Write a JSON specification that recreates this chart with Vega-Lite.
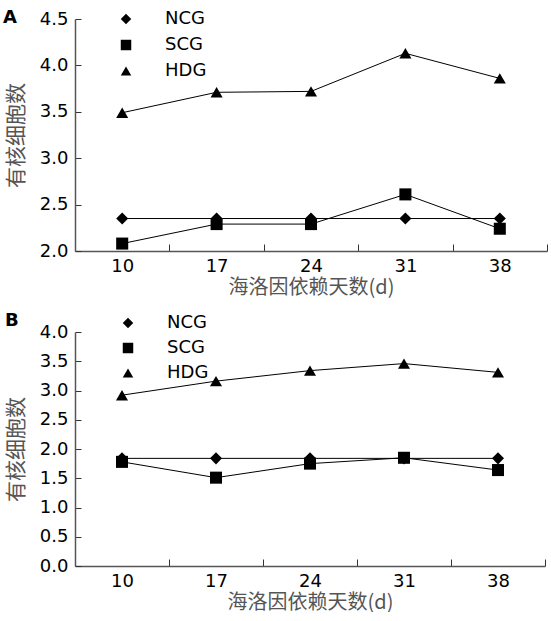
{
  "$schema": "https://vega.github.io/schema/vega-lite/v6.json",
  "padding": {"left": 3, "top": 9, "right": 0, "bottom": 0},
  "autosize": {"type": "pad"},
  "spacing": 15,
  "resolve": {"scale": {"shape": "independent"}, "legend": {"shape": "independent"}},
  "config": {
    "view": {"stroke": null},
    "font": "DejaVu Sans",
    "axis": {
      "domainColor": "#555", "domainWidth": 1.5, "tickColor": "#333", "tickWidth": 1,
      "labelFont": "DejaVu Sans", "labelFontSize": 18, "labelColor": "black",
      "titleFont": "Noto Sans CJK SC", "titleFontSize": 20, "titleColor": "#555", "titleFontWeight": "normal",
      "grid": false
    },
    "axisX": {"tickSize": -7, "labelPadding": 13, "labelAngle": 0, "tickBand": "extent", "titlePadding": 2},
    "axisY": {"tickSize": -6, "labelPadding": 13, "titlePadding": 13, "format": ".1f", "titleFontSize": 21},
    "legend": {
      "orient": "none", "title": null, "symbolSize": 110, "labelOffset": 30, "labelFontSize": 18,
      "labelFont": "DejaVu Sans", "labelColor": "black", "symbolFillColor": "black", "symbolStrokeColor": "black",
      "symbolStrokeWidth": 1, "symbolOpacity": 1
    },
    "title": {"font": "DejaVu Sans", "fontSize": 18, "fontWeight": "bold", "anchor": "start", "frame": "group", "color": "black"}
  },
  "datasets": {
    "a": [
      {"day": 10, "group": "NCG", "value": 2.35}, {"day": 17, "group": "NCG", "value": 2.35}, {"day": 24, "group": "NCG", "value": 2.35}, {"day": 31, "group": "NCG", "value": 2.35}, {"day": 38, "group": "NCG", "value": 2.35},
      {"day": 10, "group": "SCG", "value": 2.08}, {"day": 17, "group": "SCG", "value": 2.29}, {"day": 24, "group": "SCG", "value": 2.29}, {"day": 31, "group": "SCG", "value": 2.61}, {"day": 38, "group": "SCG", "value": 2.24},
      {"day": 10, "group": "HDG", "value": 3.49}, {"day": 17, "group": "HDG", "value": 3.71}, {"day": 24, "group": "HDG", "value": 3.72}, {"day": 31, "group": "HDG", "value": 4.13}, {"day": 38, "group": "HDG", "value": 3.86}
    ],
    "b": [
      {"day": 10, "group": "NCG", "value": 1.84}, {"day": 17, "group": "NCG", "value": 1.84}, {"day": 24, "group": "NCG", "value": 1.84}, {"day": 31, "group": "NCG", "value": 1.84}, {"day": 38, "group": "NCG", "value": 1.84},
      {"day": 10, "group": "SCG", "value": 1.78}, {"day": 17, "group": "SCG", "value": 1.51}, {"day": 24, "group": "SCG", "value": 1.75}, {"day": 31, "group": "SCG", "value": 1.85}, {"day": 38, "group": "SCG", "value": 1.64},
      {"day": 10, "group": "HDG", "value": 2.92}, {"day": 17, "group": "HDG", "value": 3.16}, {"day": 24, "group": "HDG", "value": 3.34}, {"day": 31, "group": "HDG", "value": 3.46}, {"day": 38, "group": "HDG", "value": 3.31}
    ]
  },
  "vconcat": [
    {
      "width": 472, "height": 232,
      "title": {"text": "A", "dx": -72, "dy": 17, "offset": 0},
      "data": {"name": "a"},
      "encoding": {
        "x": {"field": "day", "type": "ordinal", "scale": {"type": "band", "paddingInner": 0, "paddingOuter": 0}, "axis": {"title": "海洛因依赖天数(d)"}},
        "y": {"field": "value", "type": "quantitative", "scale": {"domain": [2, 4.5], "nice": false, "zero": false}, "axis": {"values": [2, 2.5, 3, 3.5, 4, 4.5], "title": "有核细胞数"}}
      },
      "layer": [
        {"mark": {"type": "line", "color": "black", "strokeWidth": 1}, "encoding": {"detail": {"field": "group"}}},
        {"mark": {"type": "point", "filled": true, "color": "black", "size": 145, "opacity": 1},
         "encoding": {"shape": {"field": "group", "type": "nominal",
           "scale": {"domain": ["NCG", "SCG", "HDG"], "range": ["diamond", "square", "triangle-up"]},
           "legend": {"legendX": 42, "legendY": -9, "rowPadding": 8}}}}
      ]
    },
    {
      "width": 470, "height": 234,
      "title": {"text": "B", "dx": -70, "dy": 16, "offset": 0},
      "data": {"name": "b"},
      "encoding": {
        "x": {"field": "day", "type": "ordinal", "scale": {"type": "band", "paddingInner": 0, "paddingOuter": 0}, "axis": {"title": "海洛因依赖天数(d)"}},
        "y": {"field": "value", "type": "quantitative", "scale": {"domain": [0, 4], "nice": false}, "axis": {"values": [0, 0.5, 1, 1.5, 2, 2.5, 3, 3.5, 4], "title": "有核细胞数"}}
      },
      "layer": [
        {"mark": {"type": "line", "color": "black", "strokeWidth": 1}, "encoding": {"detail": {"field": "group"}}},
        {"mark": {"type": "point", "filled": true, "color": "black", "size": 145, "opacity": 1},
         "encoding": {"shape": {"field": "group", "type": "nominal",
           "scale": {"domain": ["NCG", "SCG", "HDG"], "range": ["diamond", "square", "triangle-up"]},
           "legend": {"legendX": 44, "legendY": -18, "rowPadding": 7}}}}
      ]
    }
  ]
}
